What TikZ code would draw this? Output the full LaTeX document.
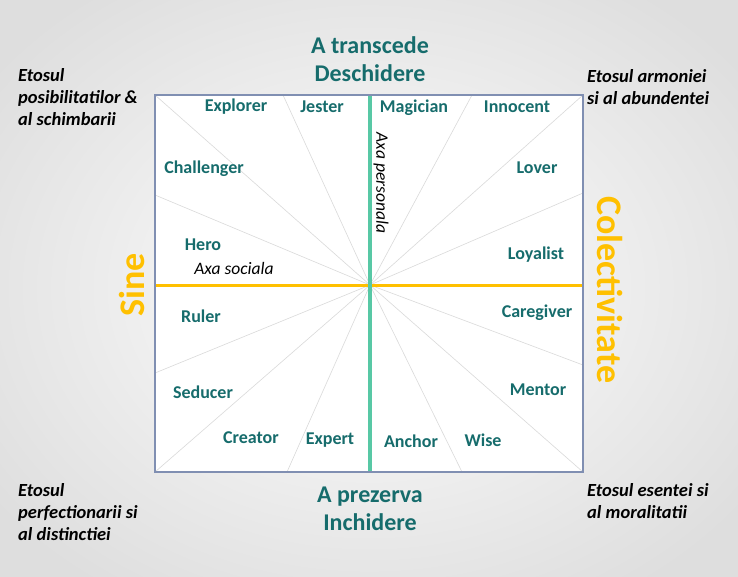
\documentclass[tikz,border=0pt]{standalone}
\usepackage{fontspec}
\setmainfont{Carlito}
\definecolor{archteal}{RGB}{22,108,108}
\definecolor{archgold}{RGB}{255,192,0}
\definecolor{archmint}{RGB}{88,200,165}
\definecolor{archframe}{RGB}{128,143,178}
\definecolor{archray}{RGB}{218,218,218}
\begin{document}
\begin{tikzpicture}[x=1pt,y=-1pt]

      \tikzset{archetype/.style={text=archteal, font=\fontsize{18}{20}\selectfont\bfseries, inner sep=1pt},
               pole/.style={text=archteal, font=\fontsize{24}{28}\selectfont\bfseries, align=center, inner sep=0pt},
               side/.style={text=archgold, font=\fontsize{36}{40}\selectfont\bfseries, inner sep=0pt},
               axis/.style={font=\fontsize{17.5}{20}\selectfont\itshape, inner sep=0pt},
               ethos/.style={font=\fontsize{18.5}{22}\selectfont\bfseries\itshape, align=left, inner sep=0pt, anchor=north west},
               ray/.style={draw=archray, line width=0.6pt}}
%% Background
      \useasboundingbox (0,0) rectangle (738,576);
      \shade[inner color=white, outer color=black!13] (-100,-80) rectangle (838,656);
      \fill[white] (155,95) rectangle (583,472);
%% Corners and points on the frame
      \coordinate (c) at (370,285);
      \coordinate (tl) at (155,95);   \coordinate (tr) at (583,95);
      \coordinate (bl) at (155,472);  \coordinate (br) at (583,472);
      \coordinate (t1) at (283,95);   \coordinate (t2) at (472,95);
      \coordinate (b1) at (287,472);  \coordinate (b2) at (462,472);
      \coordinate (l1) at (155,195);  \coordinate (l2) at (155,373);
      \coordinate (r1) at (583,193);  \coordinate (r2) at (583,365);
      \coordinate (ml) at (155,285);  \coordinate (mr) at (583,285);
      \coordinate (mt) at (370,95);   \coordinate (mb) at (370,472);
%Rays
      \path[ray] (c) edge (tl) edge (tr) edge (bl) edge (br)
                     edge (t1) edge (t2) edge (b1) edge (b2)
                     edge (l1) edge (l2) edge (r1) edge (r2);
%Axes
      \draw[archgold, line width=3pt] (ml) -- (mr);
      \draw[archmint, line width=3.5pt] (mt) -- (mb);
      \draw[archframe, line width=1.2pt] (tl) rectangle (br);
%% Archetypes
      \node[archetype] (explorer) at (236,107) {Explorer};
      \node[archetype] (jester) at (322,107) {Jester};
      \node[archetype] (magician) at (414,108) {Magician};
      \node[archetype] (innocent) at (517,107) {Innocent};
      \node[archetype] (challenger) at (204,169) {Challenger};
      \node[archetype] (lover) at (537,168) {Lover};
      \node[archetype] (hero) at (203,245) {Hero};
      \node[archetype] (loyalist) at (536,255) {Loyalist};
      \node[archetype] (ruler) at (201,316) {Ruler};
      \node[archetype] (caregiver) at (537,313) {Caregiver};
      \node[archetype] (seducer) at (203,392) {Seducer};
      \node[archetype] (mentor) at (538,390) {Mentor};
      \node[archetype] (creator) at (251,438) {Creator};
      \node[archetype] (expert) at (330,440) {Expert};
      \node[archetype] (anchor) at (411,441) {Anchor};
      \node[archetype] (wise) at (483,440) {Wise};
%% Axis names
      \node[axis] (social) at (234,268) {Axa sociala};
      \node[axis, rotate=-90] (personal) at (381,183) {Axa personala};
%% Poles
      \node[pole] (open) at (370,59) {A transcede\\Deschidere};
      \node[pole] (closed) at (370,509) {A prezerva\\Inchidere};
      \node[side, rotate=90] (self) at (132,285) {Sine};
      \node[side, rotate=-90] (collective) at (610,290) {Colectivitate};
%% Ethos
      \node[ethos] (ethos1) at (18,68) {Etosul\\posibilitatilor \&\\al schimbarii};
      \node[ethos] (ethos2) at (587,69) {Etosul armoniei\\si al abundentei};
      \node[ethos] (ethos3) at (18,483) {Etosul\\perfectionarii si\\al distinctiei};
      \node[ethos] (ethos4) at (587,483) {Etosul esentei si\\al moralitatii};

\end{tikzpicture}
\end{document}
